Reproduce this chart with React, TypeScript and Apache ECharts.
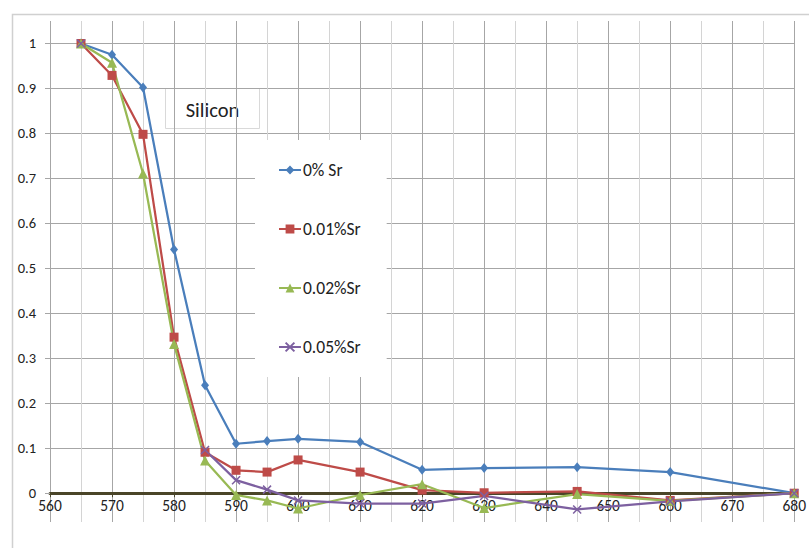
import React, { useEffect, useRef } from "react";
import * as echarts from "echarts";

const xs = [565, 570, 575, 580, 585, 590, 595, 600, 610, 620, 630, 645, 660, 680];
const sr0 = [1, 0.975, 0.902, 0.542, 0.24, 0.11, 0.116, 0.121, 0.114, 0.052, 0.056, 0.058, 0.047, 0];
const sr001 = [1, 0.929, 0.798, 0.347, 0.091, 0.051, 0.047, 0.074, 0.047, 0.007, 0.001, 0.004, -0.016, 0];
const sr002 = [1, 0.957, 0.711, 0.332, 0.073, -0.004, -0.016, -0.034, -0.004, 0.02, -0.033, -0.002, -0.017, 0];
const sr005 = [1, null, null, null, 0.096, 0.029, 0.008, -0.016, -0.023, -0.023, -0.006, -0.036, -0.018, 0];
const seriesNames = ["0% Sr", "0.01%Sr", "0.02%Sr", "0.05%Sr"];
const yTicks = [0, 0.1, 0.2, 0.3, 0.4, 0.5, 0.6, 0.7, 0.8, 0.9, 1];
const boxLabel = "Silicon";

const FONT = "Carlito, 'Liberation Sans', Arial, sans-serif";

function pairs(ys: (number | null)[]) {
  return xs.map((x, i) => [x, ys[i] === null ? null : ys[i]]);
}

export default function App() {
  const ref = useRef<HTMLDivElement>(null);
  useEffect(() => {
    if (!ref.current) return;
    const chart = echarts.init(ref.current, null, { renderer: "svg" });
    const mk = (
      name: string,
      ys: (number | null)[],
      color: string,
      symbol: string,
      size: number | number[],
      stroke = false
    ) => ({
      name,
      type: "line",
      data: pairs(ys),
      symbol,
      symbolSize: size,
      showSymbol: true,
      connectNulls: false,
      lineStyle: { color, width: 2.25 },
      itemStyle: stroke
        ? { color: "rgba(0,0,0,0)", borderColor: color, borderWidth: 1.5 }
        : { color, borderColor: color, borderWidth: 0 },
      emphasis: { disabled: true },
    });
    chart.setOption({
      animation: false,
      textStyle: { fontFamily: FONT },
      grid: { left: 50, right: 8, top: 21, bottom: 26, containLabel: false },
      xAxis: {
        type: "value",
        min: 560,
        max: 680,
        interval: 10,
        offset: -28.8,
        axisLine: { onZero: false, lineStyle: { color: "#4a4528", width: 3 } },
        axisTick: { show: true, length: 4, lineStyle: { color: "#4a4528", width: 1 } },
        axisLabel: { fontSize: 15.5, color: "#222", margin: 4, fontFamily: FONT },
        splitLine: { show: true, lineStyle: { color: "#a6a6a6", width: 1 } },
        minorTick: { show: false, splitNumber: 2 },
        minorSplitLine: { show: true, lineStyle: { color: "#d4d4d4", width: 1 } },
      },
      yAxis: {
        type: "value",
        min: -0.064,
        max: 1.05,
        axisLine: { show: false },
        axisTick: { show: true, length: 5, customValues: yTicks, lineStyle: { color: "#a6a6a6" } },
        axisLabel: {
          customValues: yTicks,
          fontSize: 14.5,
          color: "#222",
          margin: 14,
          fontFamily: FONT,
          formatter: (v: number) => String(Math.round(v * 10) / 10),
        },
        splitLine: { show: true, lineStyle: { color: "#a6a6a6", width: 1 } },
      },
      legend: {
        data: seriesNames,
        orient: "vertical",
        left: 255,
        top: 140,
        padding: [21, 26, 21, 23],
        itemGap: 41,
        itemWidth: 22,
        itemHeight: 11,
        backgroundColor: "#ffffff",
        textStyle: { fontSize: 17.5, color: "#222", fontFamily: FONT, padding: [0, 0, 0, -3] },
        selectedMode: false,
      },
      graphic: [
        {
          type: "rect",
          left: 10,
          top: 12,
          shape: { width: 830, height: 560 },
          style: { fill: "none", stroke: "#d0d0d0", lineWidth: 1.5 },
          silent: true,
          z: -10,
        },
        {
          type: "group",
          left: 165,
          top: 88,
          z: 100,
          children: [
            {
              type: "rect",
              shape: { x: 0, y: 0, width: 94, height: 40 },
              style: { fill: "#fff", stroke: "#d9d9d9", lineWidth: 1 },
            },
            {
              type: "text",
              x: 47,
              y: 21,
              style: {
                text: boxLabel,
                fontSize: 20.5,
                fill: "#222",
                fontFamily: FONT,
                align: "center",
                verticalAlign: "middle",
              },
            },
          ],
        },
      ],
      series: [
        mk(seriesNames[0], sr0, "#4a7ebb", "diamond", [8, 10]),
        mk(seriesNames[1], sr001, "#be4b48", "rect", 9),
        mk(seriesNames[2], sr002, "#98b954", "triangle", 10),
        mk(seriesNames[3], sr005, "#7d60a0", "path://M0,0L10,10M10,0L0,10", 8, true),
      ],
    });
    return () => chart.dispose();
  }, []);
  return (
    <div
      ref={ref}
      style={{ position: "fixed", left: 0, top: 0, width: 809, height: 548, background: "#fff" }}
    />
  );
}
